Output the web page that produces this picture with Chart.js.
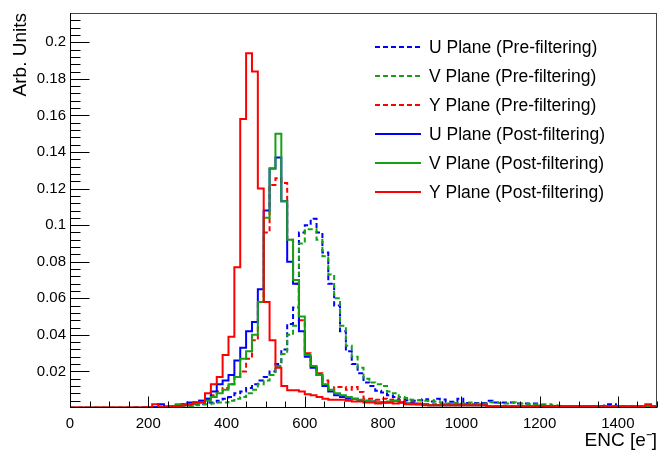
<!DOCTYPE html>
<html><head><meta charset="utf-8">
<script src="https://cdn.jsdelivr.net/npm/chart.js@4.4.1/dist/chart.umd.min.js"></script>
<style>html,body{margin:0;padding:0;background:#fff;}#wrap{width:659px;height:452px;}</style>
</head><body><div id="wrap"><canvas id="c" width="659" height="452"></canvas></div>
<script>
// ---- data ----
const binWidth = 15;           // e- per bin, 100 bins from 0 to 1500
const xTickValues = [0, 200, 400, 600, 800, 1000, 1200, 1400];
const xTickLabels = ['0', '200', '400', '600', '800', '1000', '1200', '1400'];
const yTickValues = [0.02, 0.04, 0.06, 0.08, 0.1, 0.12, 0.14, 0.16, 0.18, 0.2];
const yTickLabels = ['0.02', '0.04', '0.06', '0.08', '0.1', '0.12', '0.14', '0.16', '0.18', '0.2'];
const seriesNames = ['U Plane (Pre-filtering)', 'V Plane (Pre-filtering)', 'Y Plane (Pre-filtering)',
                     'U Plane (Post-filtering)', 'V Plane (Post-filtering)', 'Y Plane (Post-filtering)'];

const uPre = [0,0,0,0,0,0,0,0,0,0,
  0.0003,0.0003,0.0003,0.0003,0.0003,0.0005,0.0005,0.0008,0.001,0.0012,
  0.0015,0.002,0.002,0.003,0.003,0.004,0.005,0.006,0.008,0.009,
  0.011,0.013,0.015,0.017,0.02,0.024,0.032,0.046,0.055,0.096,
  0.100,0.1035,0.096,0.085,0.068,0.056,0.042,0.031,0.024,0.019,
  0.014,0.012,0.0095,0.0085,0.007,0.006,0.0045,0.0043,0.004,0.0042,
  0.0048,0.0035,0.005,0.0047,0.0034,0.0034,0.005,0.0027,0.0027,0.0027,
  0.0027,0.004,0.003,0.003,0.003,0.003,0.0025,0.0025,0.0025,0.0025,
  0.0015,0.001,0.001,0.001,0.0008,0.0008,0.001,0.0008,0.0008,0.0008,
  0.001,0.002,0.002,0.0008,0.0005,0.0005,0.0005,0.0005,0.0005,0.0005];

const vPre = [0.0002,0.0002,0.0002,0.0002,0.0002,0.0002,0.0002,0.0002,0.0002,0.0002,
  0.0002,0.0002,0.0002,0.0002,0.0002,0.0003,0.0005,0.0005,0.001,0.001,
  0.001,0.0015,0.002,0.002,0.0025,0.003,0.003,0.004,0.005,0.006,
  0.008,0.01,0.013,0.015,0.018,0.023,0.0295,0.04,0.045,0.09,
  0.0977,0.0977,0.092,0.083,0.073,0.06,0.045,0.034,0.028,0.022,
  0.016,0.014,0.013,0.012,0.009,0.008,0.006,0.0055,0.0045,0.0043,
  0.004,0.004,0.0035,0.003,0.0025,0.0028,0.0025,0.0025,0.003,0.0025,
  0.0025,0.0032,0.003,0.0028,0.0025,0.003,0.0025,0.0025,0.0022,0.002,
  0.002,0.002,0.0015,0.0012,0.0006,0.0006,0.0006,0.0006,0.0006,0.0006,
  0.0006,0.0006,0.0006,0.0006,0.0006,0.0006,0.0006,0.0006,0.0006,0.0006];

const yPre = [0.0002,0.0002,0.0002,0.0002,0.0002,0.0002,0.0002,0.0002,0.0002,0.0002,
  0.0002,0.0002,0.0002,0.0005,0.0005,0.0008,0.001,0.001,0.0015,0.002,
  0.002,0.003,0.004,0.005,0.007,0.009,0.011,0.013,0.017,0.02,
  0.027,0.037,0.058,0.096,0.122,0.1256,0.123,0.092,0.068,0.048,
  0.03,0.023,0.019,0.015,0.0097,0.0115,0.0115,0.01,0.0115,0.0088,
  0.005,0.005,0.0045,0.005,0.0045,0.0047,0.004,0.003,0.003,0.0025,
  0.002,0.002,0.002,0.002,0.002,0.002,0.002,0.002,0.002,0.002,
  0.002,0.001,0.001,0.001,0.001,0.001,0.001,0.001,0.001,0.001,
  0.001,0.001,0.001,0.001,0.001,0.001,0.001,0.001,0.001,0.001,
  0.001,0.001,0.001,0.001,0.001,0.001,0.001,0.001,0.001,0.001];

const uPost = [0.0002,0.0002,0.0002,0.0002,0.0002,0.0002,0.0002,0.0002,0.0002,0.0002,
  0.0002,0.0002,0.0002,0.0005,0.0005,0.002,0.0005,0.001,0.001,0.002,
  0.003,0.003,0.004,0.005,0.009,0.013,0.015,0.018,0.026,0.033,
  0.042,0.047,0.065,0.108,0.131,0.137,0.113,0.080,0.068,0.042,
  0.028,0.022,0.018,0.012,0.009,0.007,0.006,0.005,0.005,0.004,
  0.004,0.0035,0.003,0.003,0.003,0.004,0.003,0.0025,0.0025,0.002,
  0.002,0.0015,0.0015,0.0015,0.0015,0.0015,0.0015,0.0015,0.0015,0.0015,
  0.0015,0.0008,0.0008,0.0008,0.0008,0.0008,0.0008,0.0008,0.0008,0.0008,
  0.0008,0.0008,0.0008,0.0008,0.0008,0.0008,0.0008,0.0008,0.0008,0.0008,
  0.0008,0.0008,0.0008,0.0008,0.0008,0.0008,0.0008,0.0008,0.0008,0.0008];

const vPost = [0.0002,0.0002,0.0002,0.0002,0.0002,0.0002,0.0002,0.0002,0.0002,0.0002,
  0.0002,0.0002,0.0002,0.0002,0.0002,0.0005,0.0005,0.001,0.002,0.0015,
  0.002,0.0025,0.003,0.004,0.006,0.008,0.010,0.013,0.017,0.027,
  0.031,0.040,0.058,0.104,0.131,0.150,0.113,0.092,0.070,0.050,
  0.029,0.023,0.018,0.013,0.010,0.008,0.007,0.006,0.005,0.0045,
  0.004,0.0035,0.003,0.003,0.0035,0.004,0.003,0.0025,0.002,0.002,
  0.002,0.0015,0.0015,0.0015,0.0015,0.0015,0.0015,0.0015,0.0015,0.0015,
  0.0015,0.0008,0.0008,0.0008,0.0008,0.0008,0.0008,0.0008,0.0008,0.0008,
  0.0008,0.0008,0.0008,0.0008,0.0008,0.0008,0.0008,0.0008,0.0008,0.0008,
  0.0008,0.0008,0.0008,0.0008,0.0008,0.0008,0.0008,0.0008,0.0008,0.0008];

const yPost = [0.0003,0.0003,0.0003,0.0003,0.0003,0.0003,0.0003,0.0003,0.0003,0.0003,
  0.0003,0.0003,0.0003,0.0005,0.002,0.0005,0.0005,0.0008,0.001,0.0015,
  0.002,0.003,0.003,0.008,0.013,0.017,0.029,0.039,0.077,0.158,
  0.194,0.184,0.120,0.058,0.037,0.022,0.012,0.0097,0.0097,0.009,
  0.0075,0.007,0.006,0.005,0.0045,0.0045,0.0045,0.004,0.0035,0.0035,
  0.003,0.003,0.0025,0.003,0.003,0.0025,0.003,0.002,0.002,0.002,
  0.0015,0.0015,0.0015,0.0015,0.0015,0.0015,0.0015,0.0015,0.0015,0.0015,
  0.0015,0.0008,0.0008,0.0008,0.0008,0.0008,0.0008,0.0008,0.0008,0.0008,
  0.0008,0.0008,0.0008,0.0008,0.0008,0.0008,0.0008,0.0008,0.0008,0.0008,
  0.0008,0.0008,0.0008,0.0008,0.0008,0.0008,0.0008,0.0008,0.002,0.001];

// ---- styles ----
const BLUE = '#0000ff', GREEN = '#16a016', RED = '#ff0000';
const FONT = "'Liberation Sans', Arial, Helvetica, sans-serif";

function histPoints(vals) {
  // step histogram: one point per bin left edge plus closing right edge
  const pts = vals.map((v, i) => ({x: i * binWidth, y: v}));
  pts.push({x: vals.length * binWidth, y: vals[vals.length - 1]});
  return pts;
}

const seriesValues = [uPre, vPre, yPre, uPost, vPost, yPost];
const seriesColors = [BLUE, GREEN, RED, BLUE, GREEN, RED];
const seriesDashed = [true, true, true, false, false, false];
const seriesOrder  = [6, 5, 4, 3, 2, 1];

const datasets = seriesValues.map((vals, k) => ({
  label: seriesNames[k],
  data: histPoints(vals),
  borderColor: seriesColors[k],
  backgroundColor: seriesColors[k],
  borderWidth: 2,
  borderDash: seriesDashed[k] ? [5, 3] : [],
  pointRadius: 0,
  stepped: true,
  fill: false,
  order: seriesOrder[k]
}));

const frameAndTicks = {
  id: 'frameAndTicks',
  afterDatasetsDraw(chart) {
    const {ctx, chartArea: a, scales: {x, y}} = chart;
    ctx.save();
    ctx.lineWidth = 1;
    ctx.strokeStyle = '#000';
    const L = Math.round(a.left) + 0.5, B = Math.round(a.bottom) - 0.5;
    // x ticks (inside)
    for (let v = 0; v <= 1500; v += 50) {
      const px = Math.round(x.getPixelForValue(v)) + 0.5;
      const len = (v % 200 === 0) ? 11 : 6;
      ctx.beginPath(); ctx.moveTo(px, B); ctx.lineTo(px, B - len); ctx.stroke();
    }
    // y ticks (inside), skipping the one on the x axis
    for (let i = 1; i <= 54; i++) {
      const v = i * 0.004;
      if (v > y.max) break;
      const py = Math.round(y.getPixelForValue(v)) + 0.5;
      const len = (i % 5 === 0) ? 19 : 10;
      ctx.beginPath(); ctx.moveTo(L, py); ctx.lineTo(L + len, py); ctx.stroke();
    }
    // frame
    ctx.strokeStyle = '#444';
    ctx.strokeRect(L, Math.round(a.top) + 0.5, Math.round(a.right) - Math.round(a.left) - 1, Math.round(a.bottom) - Math.round(a.top) - 1);
    ctx.strokeStyle = '#000';
    ctx.beginPath(); ctx.moveTo(L, a.top); ctx.lineTo(L, B); ctx.lineTo(a.right, B); ctx.stroke();
    ctx.restore();
  }
};

const rootLegend = {
  id: 'rootLegend',
  afterDraw(chart) {
    const {ctx} = chart;
    ctx.save();
    ctx.font = '17.5px ' + FONT;
    ctx.textBaseline = 'middle';
    ctx.textAlign = 'left';
    chart.data.datasets.forEach((ds, k) => {
      const yy = 47 + k * 29;
      ctx.strokeStyle = ds.borderColor;
      ctx.lineWidth = 2;
      ctx.setLineDash(ds.borderDash);
      ctx.beginPath(); ctx.moveTo(375, yy); ctx.lineTo(421, yy); ctx.stroke();
      ctx.setLineDash([]);
      ctx.fillStyle = '#000';
      ctx.fillText(ds.label, 429, yy + 1);
    });
    ctx.restore();
  }
};

new Chart(document.getElementById('c'), {
  type: 'line',
  data: {datasets},
  options: {
    responsive: false,
    animation: false,
    devicePixelRatio: 1,
    layout: {padding: {left: 0, right: 2, top: 7, bottom: 0}},
    plugins: {legend: {display: false}, tooltip: {enabled: false}},
    scales: {
      x: {
        type: 'linear', position: 'bottom', min: 0, max: 1500,
        grid: {display: false, drawTicks: false},
        border: {display: false},
        afterBuildTicks: s => { s.ticks = xTickValues.map(v => ({value: v})); },
        afterFit: s => { s.height = 44; },
        ticks: {
          autoSkip: false, maxRotation: 0, padding: 7, color: '#000',
          font: {family: FONT, size: 15},
          callback: v => { const i = xTickValues.indexOf(v); return i >= 0 ? xTickLabels[i] : ''; }
        },
        title: {display: true, text: 'ENC [e\u207B]', align: 'end', color: '#000',
                font: {family: FONT, size: 19}, padding: {top: 0, bottom: 0}}
      },
      y: {
        type: 'linear', position: 'left', min: 0, max: 0.216,
        grid: {display: false, drawTicks: false},
        border: {display: false},
        afterBuildTicks: s => { s.ticks = yTickValues.map(v => ({value: v})); },
        afterFit: s => { s.width = 70; },
        ticks: {
          autoSkip: false, padding: 4, color: '#000',
          font: {family: FONT, size: 15},
          callback: v => { const i = yTickValues.findIndex(t => Math.abs(t - v) < 1e-9); return i >= 0 ? yTickLabels[i] : ''; }
        },
        title: {display: true, text: 'Arb. Units', align: 'end', color: '#000',
                font: {family: FONT, size: 19}, padding: {top: 9, bottom: 0}}
      }
    }
  },
  plugins: [frameAndTicks, rootLegend]
});
</script></body></html>
